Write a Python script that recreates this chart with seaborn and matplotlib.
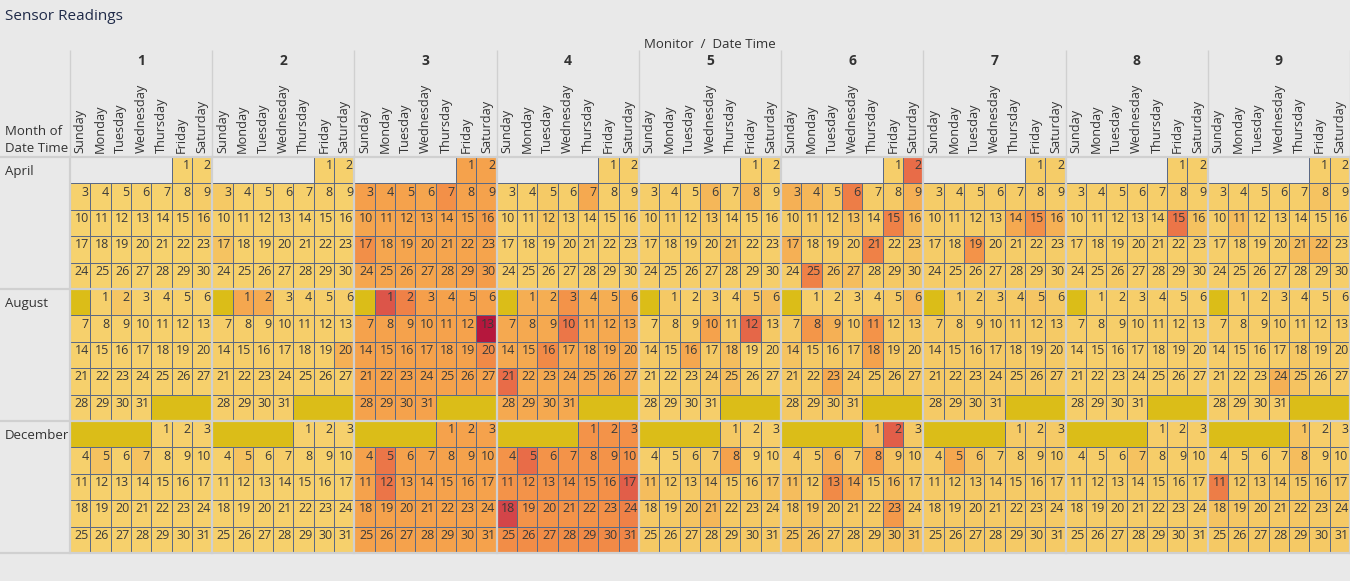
import numpy as np
import seaborn as sns
import matplotlib.pyplot as plt
from matplotlib import transforms
from matplotlib.colors import LinearSegmentedColormap, ListedColormap, to_rgba

# Calendar layout
MONTHS = ['April', 'August', 'December']
FIRST_WEEKDAY = [5, 1, 4]          # Sunday = 0
DAYS_IN_MONTH = [30, 31, 31]
FILL_EMPTY = [False, True, True]   # empty slots shown as "no data" blocks
MONITORS = ['1', '2', '3', '4', '5', '6', '7', '8', '9']
WEEKDAYS = ['Sunday', 'Monday', 'Tuesday', 'Wednesday', 'Thursday', 'Friday', 'Saturday']

# Daily sensor readings, one list per monitor (day 1 .. end of month)
APRIL = [
    [.3, .4, .4, .3, .3, .4, .3, .4, .8, .3, .4, .3, .4, .3, .5, .9, .3, .4, .3, .4, .3, .4, .5, .4, .3, .4, .3, .4, .3, .4],
    [.5, .5, 1.0, .5, .5, .5, .5, .6, .5, .5, .5, .5, .5, .5, .5, .5, 1.5, .5, .5, .5, .5, .5, .5, .5, .5, .5, .5, .5, .5, .5],
    [4.0, 4.0, 4.2, 4.0, 4.0, 3.8, 5.2, 4.0, 4.0, 3.8, 3.7, 3.8, 3.8, 3.9, 3.8, 4.3, 5.3, 3.7, 3.8, 3.8, 3.8, 3.9, 3.9, 3.7, 3.8, 3.8, 3.8, 3.9, 4.1, 4.3],
    [.6, .6, .6, .6, .9, .6, 3.5, .6, .6, .6, .6, 1.3, .6, .6, .6, .6, .6, .6, .6, .6, .6, .6, .6, .6, .6, .6, .6, .6, .6, .6],
    [.6, .6, .6, .7, .6, 2.5, .8, 2.5, .6, .6, .8, .6, 1.0, .6, .6, .6, .6, .6, .6, .6, 1.6, .6, .6, .6, .6, .6, .6, .6, .6, .6],
    [.6, 7.0, 3.0, 2.5, 1.2, 6.2, .8, 1.0, 3.0, .8, 1.0, .8, 1.5, .8, 6.0, 2.3, 3.0, .8, .8, .8, 6.0, .8, 1.5, .8, 6.0, 1.5, 2.0, .8, 1.0, 1.0],
    [.8, .8, .8, .8, .8, .8, .8, .9, .8, .8, .8, .8, .8, 3.5, 5.3, 3.0, .8, .8, 5.0, .8, .8, .8, .8, .8, .8, .8, .8, .8, .8, .8],
    [.6, .6, .6, .6, .6, .6, .6, .9, .6, .6, .6, .6, .6, .6, 6.6, 1.6, .6, .6, .6, .6, .6, .6, .6, .6, .6, .9, .6, .6, .6, .6],
    [.6, .6, .6, .6, .6, .6, .6, 1.5, .6, .6, 2.0, .6, .6, .6, .6, .6, .6, .6, .6, .6, 2.0, 2.5, .6, .6, .6, .6, .6, .6, .6, .6],
]

AUGUST = [
    [.5, 1.3, .5, .5, .5, .5, .5, .5, .5, .5, .5, .5, .5, .5, .5, .5, .5, .5, .5, .5, .5, .5, .5, .5, .5, .5, .5, .5, .5, .5, .5],
    [3.6, 3.4, .6, .6, .6, .6, .6, .6, .6, .6, .6, .6, .6, .6, .6, .6, .6, .6, .6, 3.0, .6, .6, .6, .6, .6, .6, .6, .6, .6, .6, .6],
    [8.0, 6.0, 4.2, 4.0, 4.0, 4.0, 4.0, 4.0, 4.0, 4.0, 4.0, 4.0, 10.0, 4.0, 4.0, 4.0, 4.0, 4.0, 4.0, 5.6, 4.0, 4.0, 4.0, 4.0, 4.0, 4.0, 4.0, 4.0, 4.0, 4.0, 4.0],
    [3.2, 3.2, 5.0, 3.2, 3.2, 3.5, 3.5, 3.5, 3.5, 6.5, 3.5, 3.5, 3.5, 3.5, 3.5, 5.6, 3.5, 3.5, 3.5, 3.5, 7.0, 3.5, 3.5, 3.5, 3.5, 3.5, 3.5, 3.5, 3.5, 3.5, 3.5],
    [1.0, .6, 1.0, .6, 1.5, 2.0, .6, 1.0, 1.0, 4.0, 1.0, 7.2, 1.0, 1.0, 1.0, 3.6, 1.0, 2.0, .6, .6, .6, .6, .8, 1.0, 2.0, .6, .6, .6, .6, .6, .6],
    [.6, .6, .6, .6, 1.0, 2.5, 1.0, 4.8, 3.0, 1.0, 5.0, 1.0, 1.0, 1.5, 1.0, 1.0, 1.0, 4.0, 1.0, 1.0, 1.0, 1.0, 3.5, 1.0, 1.0, 1.0, 1.0, 1.0, 1.0, 1.0, 1.0],
    [.9, .9, .9, .9, 1.3, .9, .9, .9, .9, .9, .9, .9, .9, .9, .9, .9, .9, .9, .9, .9, .9, .9, .9, .9, .9, .9, .9, .9, .9, .9, .9],
    [.6, .6, .6, .6, .6, .6, .6, .6, .6, .6, .6, .6, .6, .6, .6, .6, .6, .6, .6, .6, .6, .6, .6, .6, .6, .6, .6, .6, .6, .6, .6],
    [.7, .7, .7, .7, .7, .7, .7, .7, .7, .7, .7, .7, .7, .7, .7, .7, .7, 1.2, .7, .7, .7, .7, .7, 3.0, 1.5, .7, .7, .7, .7, .7, .7],
]

DECEMBER = [
    [.5, .5, .5, .5, 1.6, .5, 1.6, .5, .5, .5, .5, .5, .5, .5, .5, .5, .5, .5, .5, .5, .5, .5, .5, .5, .5, .5, .5, .5, .5, .5, .5],
    [.5, .5, .5, .5, 1.6, .5, .7, .5, .5, .5, .5, .5, .5, .5, .5, .5, .5, .5, .5, .5, .5, .5, .5, .5, .5, .5, .5, .5, .5, .5, .5],
    [4.0, 4.0, 4.0, 4.0, 6.5, 4.0, 4.0, 4.0, 4.0, 4.0, 4.0, 6.6, 4.0, 4.0, 4.0, 4.0, 4.0, 4.0, 4.0, 4.0, 4.0, 4.0, 4.0, 4.0, 4.0, 4.0, 4.0, 4.0, 4.0, 4.0, 4.0],
    [5.0, 5.0, 5.2, 5.0, 7.0, 5.0, 5.0, 5.0, 5.0, 5.2, 5.0, 5.0, 5.0, 5.0, 5.0, 5.2, 7.6, 8.6, 5.0, 5.0, 5.0, 5.0, 5.2, 6.0, 5.4, 5.4, 5.4, 5.4, 5.6, 5.6, 5.8],
    [1.0, .6, .6, .6, .6, 1.0, 1.0, 4.0, .6, .6, 2.0, 1.0, 1.0, 1.5, 1.0, 1.0, 1.5, 1.0, 1.0, 1.5, 2.5, 1.0, 1.0, 1.0, 1.0, 1.0, 1.0, 1.0, 1.0, 1.0, 1.0],
    [2.0, 7.6, 1.0, 1.0, 1.0, 3.0, 1.0, 4.6, 1.5, 1.0, 2.0, 1.0, 5.6, 3.6, 1.0, 2.0, 1.0, 1.0, 1.5, 1.0, 1.0, 1.0, 4.6, 1.0, 1.5, 1.5, 1.0, 1.0, 1.0, 1.5, 1.5],
    [.9, .9, .9, .9, 3.6, 1.6, .9, .9, .9, .9, .9, .9, .9, .9, .9, .9, .9, .9, .9, .9, .9, .9, .9, .9, .9, .9, .9, .9, .9, .9, .9],
    [.7, .7, .7, .7, .7, .7, 1.6, .7, .7, .7, .8, .8, .8, .8, .8, .8, .8, .8, .8, .8, .8, .8, .8, .8, .8, .8, .8, .8, .8, .8, .8],
    [1.5, .7, .7, .7, .7, .7, .7, 2.0, .7, .7, 6.2, 1.0, 1.0, 1.0, 1.0, 1.0, 1.0, 1.5, 1.2, 1.0, 1.0, 1.2, 1.0, 1.0, 1.0, 1.0, 1.0, 1.0, 1.0, 1.0, 1.0],
]

BG = '#e9e9e9'
SEP = '#d0d0d0'
TEXT = '#333333'
CELL_EDGE = '#5b6985'

plt.rcParams['font.family'] = ['Open Sans', 'DejaVu Sans']


def build_calendar():
    """Lays the daily readings out as week rows x (monitor, weekday) columns."""
    n_rows = 5 * len(MONTHS)
    n_cols = 7 * len(MONITORS)
    values = np.full((n_rows, n_cols), np.nan)
    labels = np.full((n_rows, n_cols), '', dtype=object)
    empty = np.full((n_rows, n_cols), np.nan)

    for mi, readings in enumerate([APRIL, AUGUST, DECEMBER]):
        for m, series in enumerate(readings):
            for slot in range(35):
                row = mi * 5 + slot // 7
                col = m * 7 + slot % 7
                day = slot - FIRST_WEEKDAY[mi] + 1
                if 1 <= day <= DAYS_IN_MONTH[mi]:
                    values[row, col] = series[day - 1]
                    labels[row, col] = str(day)
                elif FILL_EMPTY[mi]:
                    empty[row, col] = 1
    return values, labels, empty


def main():
    values, labels, empty = build_calendar()

    cmap = LinearSegmentedColormap.from_list('sensor', [
        (0.00, '#f7d672'), (0.10, '#f5c965'), (0.25, '#f5b759'),
        (0.40, '#f5a24c'), (0.55, '#f28c47'), (0.70, '#e86c48'),
        (0.85, '#d6494a'), (1.00, '#b5173d')])

    fig = plt.figure(figsize=(13.5, 5.81), dpi=100)
    fig.patch.set_facecolor(BG)
    ax = fig.add_axes([70 / 1350, 1 - 553 / 581, 1280 / 1350, 396 / 581])
    ax.set_facecolor(BG)

    # "no data" slots first, then the readings on top
    sns.heatmap(empty, ax=ax, cmap=ListedColormap(['#dbbd18']), cbar=False,
                linewidths=0, xticklabels=False, yticklabels=False)
    sns.heatmap(values, ax=ax, cmap=cmap, vmin=0, vmax=10, cbar=False,
                linewidths=0.6, linecolor=CELL_EDGE,
                annot=labels, fmt='',
                annot_kws=dict(fontsize=9, color='#3a3a3a', ha='right'),
                xticklabels=WEEKDAYS * len(MONITORS), yticklabels=False)

    # only real days get a cell border
    mesh = ax.collections[-1]
    edge_rgba = np.array([to_rgba(CELL_EDGE)] * values.size)
    edge_rgba[np.isnan(values).ravel()] = (0, 0, 0, 0)
    mesh.set_edgecolor(edge_rgba)

    # day numbers sit in the upper right corner of each cell
    for t in ax.texts:
        x, y = t.get_position()
        t.set_position((x + 0.43, y - 0.17))

    ax.xaxis.tick_top()
    ax.tick_params(axis='x', length=0, pad=3, labelrotation=90,
                   labelsize=9.2, labelcolor=TEXT)
    ax.set_yticks([mi * 5 + 0.5 for mi in range(len(MONTHS))])
    ax.set_yticklabels(MONTHS)
    ax.tick_params(axis='y', length=0, pad=46.8, labelsize=9.5, labelcolor=TEXT)
    for lbl in ax.get_yticklabels():
        lbl.set_ha('left')
        lbl.set_rotation(0)

    # separators between monitors and between months
    n_cols = values.shape[1]
    for c in range(0, n_cols + 1, 7):
        ax.axvline(c, color=SEP, lw=1.6, clip_on=False)
    ax.vlines(range(0, n_cols + 1, 7), 1, 1.27, transform=ax.get_xaxis_transform(),
              colors=SEP, lw=1.0, clip_on=False)
    row_trans = transforms.blended_transform_factory(fig.transFigure, ax.transData)
    ax.hlines(range(0, values.shape[0] + 1, 5), 0, 1, transform=row_trans,
              colors=SEP, lw=1.6, clip_on=False)

    for m, name in enumerate(MONITORS):
        ax.text(m * 7 + 3.5, 1.242, name, transform=ax.get_xaxis_transform(),
                ha='center', va='center', fontsize=10, fontweight='bold', color=TEXT)

    fig.text(5 / 1350, 1 - 17 / 581, 'Sensor Readings', ha='left', va='center',
             fontsize=11, color='#1f2a48')
    fig.text(710 / 1350, 1 - 44 / 581, 'Monitor  /  Date Time', ha='center', va='center',
             fontsize=9.5, color=TEXT)
    fig.text(5 / 1350, 1 - 140 / 581, 'Month of\nDate Time', ha='left', va='center',
             fontsize=9.5, color=TEXT, linespacing=1.45)

    ax.set_xlabel('')
    ax.set_ylabel('')
    plt.savefig('out.png', dpi=100, facecolor=BG)


if __name__ == "__main__":
    main()
